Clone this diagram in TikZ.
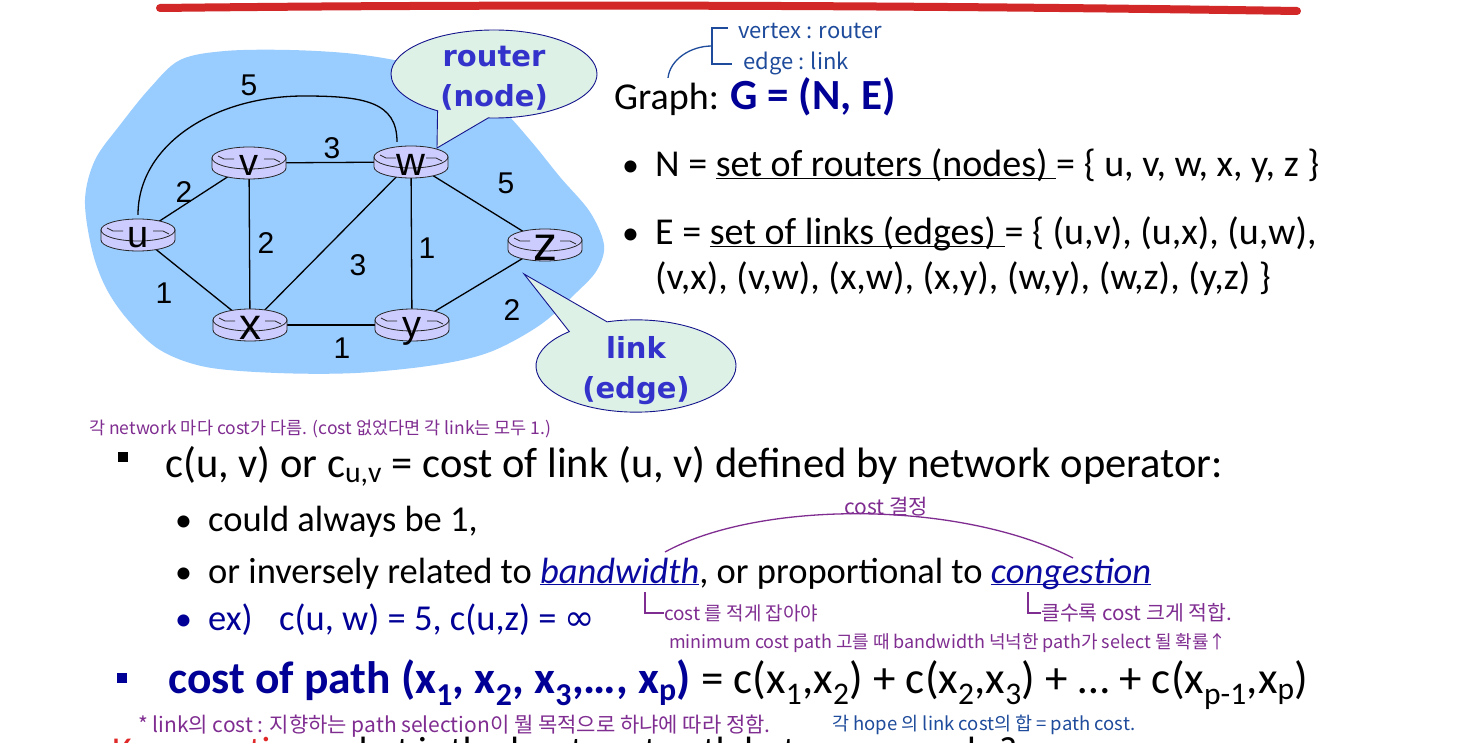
\documentclass[tikz,border=0pt]{standalone}
\usepackage{fontspec}
\setmainfont{Carlito}
\newfontfamily\arialfont{Liberation Sans}
\newfontfamily\bubblefont{DejaVu Sans}
\newfontfamily\hangul{Noto Sans CJK KR}
\usetikzlibrary{positioning,calc,shapes.geometric,shapes.callouts,backgrounds}

\definecolor{cloudblue}{RGB}{153,204,255}
\definecolor{routerlav}{RGB}{204,204,255}
\definecolor{bubblefill}{RGB}{221,241,231}
\definecolor{bubbleedge}{RGB}{20,20,140}
\definecolor{bubbletext}{RGB}{51,51,204}
\definecolor{slideblue}{RGB}{0,0,150}
\definecolor{linkblue}{RGB}{10,10,160}
\definecolor{penpurple}{RGB}{128,45,145}
\definecolor{penblue}{RGB}{30,75,155}
\definecolor{penred}{RGB}{210,40,40}
\definecolor{keyred}{RGB}{225,40,40}

\newcommand{\fsz}[1]{\fontsize{#1}{#1}\selectfont}
\newcommand{\ulword}[1]{\underline{\smash{#1}}}

\tikzset{
  router/.style={rectangle, minimum width=80pt, minimum height=40pt, inner sep=0pt,
    font=\arialfont\fsz{38}, text height=26pt, text depth=0pt,
    path picture={
      \path (path picture bounding box.center) coordinate (rc);
      \filldraw[fill=routerlav, draw=black!85, line width=0.8pt]
        ([shift={(-37pt,5pt)}]rc) -- ([shift={(-37pt,-5pt)}]rc)
        arc[start angle=180, end angle=360, x radius=37pt, y radius=11pt]
        -- ([shift={(37pt,5pt)}]rc) -- cycle;
      \filldraw[fill=routerlav, draw=black!85, line width=0.8pt]
        ([shift={(0pt,5pt)}]rc) ellipse[x radius=37pt, y radius=11pt];
      \draw[black!85, line width=0.8pt]
        ([shift={(-31pt,7pt)}]rc) -- ([shift={(-25pt,4pt)}]rc) -- ([shift={(-15pt,4pt)}]rc)
        ([shift={(15pt,4pt)}]rc) -- ([shift={(25pt,4pt)}]rc) -- ([shift={(31pt,1pt)}]rc);
    }},
  link/.style={draw=black, line width=1.3pt},
  wt/.style={font=\arialfont\fsz{30}, inner sep=0pt},
  bubble/.style={ellipse callout, draw=bubbleedge, fill=bubblefill, line width=0.9pt,
    inner xsep=0pt, align=center, text=bubbletext, font=\bubblefont\bfseries\fontsize{29}{40}\selectfont},
  slidetext/.style={anchor=base west, inner sep=0pt, font=\fsz{38}},
  subtext/.style={anchor=base west, inner sep=0pt, font=\fsz{36.5}},
  maintext/.style={anchor=base west, inner sep=0pt, font=\fsz{42.5}},
  dotbullet/.style={anchor=base west, inner sep=0pt},
  sqbullet/.style={rectangle, fill=black, minimum size=10pt, inner sep=0pt},
  pennote/.style={anchor=base west, inner sep=0pt, text=penpurple, font=\hangul\fsz{17.5}},
  penline/.style={draw=penpurple, line width=1.3pt},
  penblueline/.style={draw=penblue, line width=1.3pt},
}

\begin{document}
\begin{tikzpicture}[x=1pt, y=-1pt]
\useasboundingbox (0,0) rectangle (1468,743);

% routers
\node[router] (u) at (138,235) {u};
\node[router] (v) at (249,163) {v};
\node[router, font=\arialfont\fsz{40}, text height=27pt] (w) at (411,162) {w};
\node[router, font=\arialfont\fsz{44}, text height=29pt] (x) at (250,325) {x};
\node[router] (y) at (412,325) {y};
\node[router, font=\arialfont\fsz{48}, text height=31pt] (z) at (545,245) {z};

% cloud and links
\begin{scope}[on background layer]
  \fill[white] (0,0) rectangle (1468,743);
  \fill[cloudblue] plot[smooth cycle, tension=0.55] coordinates {
    (85,200) (95,160) (120,125) (150,88) (180,60) (225,51) (290,50) (355,54)
    (410,64) (460,85) (500,108) (530,140) (560,177) (590,212) (604,245)
    (597,270) (577,292) (540,325) (490,352) (435,365) (356,373) (277,373)
    (206,367) (160,350) (128,320) (106,288) (92,250)};
  \draw[link] (u.center) -- (v.center);
  \draw[link] (u.center) -- (x.center);
  \draw[link] (v.center) -- (x.center);
  \draw[link] (v.center) -- (w.center);
  \draw[link] (x.center) -- (w.center);
  \draw[link] (x.center) -- (y.center);
  \draw[link] (w.center) -- (y.center);
  \draw[link] (w.center) -- (z.center);
  \draw[link] (y.center) -- (z.center);
  \draw[link] (u.north) .. controls +(0,-70) and +(-90,0) .. (304,96)
    .. controls +(60,0) and +(0,-40) .. ([xshift=-14pt]w.north);
\end{scope}

% link costs
\node[wt] (c-uw) at (249,85) {5};
\node[wt] (c-vw) at (332,148) {3};
\node[wt] (c-uv) at (184,192) {2};
\node[wt] (c-vx) at (266,243) {2};
\node[wt] (c-xw) at (358,265) {3};
\node[wt] (c-wy) at (427,248) {1};
\node[wt] (c-wz) at (506,183) {5};
\node[wt] (c-ux) at (164,293) {1};
\node[wt] (c-xy) at (342,348) {1};
\node[wt] (c-yz) at (512,310) {2};

% callouts
\node[bubble, minimum width=206pt, minimum height=88pt, inner ysep=-7pt, callout pointer arc=30,
  callout absolute pointer={($(w.center)+(26,-14)$)}] (routertag) at (494,74) {\rule{0pt}{29pt}router\\(node)};
\node[bubble, minimum width=200pt, minimum height=92pt, inner ysep=-6.5pt, callout pointer arc=25,
  callout absolute pointer={($(z.center)+(-21,29)$)}] (linktag) at (636,366) {\rule{0pt}{32pt}link\\(edge)};

% top stroke
\draw[penred, line width=8pt, line cap=round] (160,8) .. controls (500,4) and (900,5) .. (1297,11);

% graph definition
\node[slidetext] (graphhead) at (614,110) {Graph: {\color{slideblue}\bfseries\fsz{43}G = (N, E)}};
\node[dotbullet, font=\fsz{34}] (nbul) at (622,177) {•};
\node[slidetext] (nset) at (655,177) {N = \ulword{set of routers (nodes)\ }= \{ u, v, w, x, y, z \}};
\node[dotbullet, font=\fsz{34}] (ebul) at (622,245) {•};
\node[slidetext] (eset) at (655,245) {E = \ulword{set of links (edges)\ }= \{ (u,v), (u,x), (u,w),};
\node[slidetext] (eset2) at (655,290) {(v,x), (v,w), (x,w), (x,y), (w,y), (w,z), (y,z) \}};

% handwritten: vertex / edge
\node[pennote, text=penblue, font=\hangul\fsz{22}] (vtx) at (738,39) {vertex : router};
\node[pennote, text=penblue, font=\hangul\fsz{22}] (edg) at (743,70) {edge : link};
\draw[penblueline] ([shift={(-10pt,11pt)}]vtx.base west) -- ++(-16,0) |- ([shift={(-11pt,6pt)}]edg.base west);
\draw[penblueline] ([xshift=54pt]graphhead.north west) .. controls +(2,-18) and +(-22,0) .. (712,46);

% cost definition
\node[pennote] (note1) at (89,434) {각 network 마다 cost가 다름. (cost 없었다면 각 link는 모두 1.)};
\node[sqbullet] (sq1) at (123,457) {};
\node[maintext] (costdef) at (165,477) {c(u, v) or c\textsubscript{u,v} = cost of link (u, v) defined by network operator:};
\node[dotbullet, font=\fsz{34}] (b1) at (175,531) {•};
\node[subtext] (always) at (208,531) {could always be 1,};
\node[dotbullet, font=\fsz{34}] (b2) at (175,583) {•};
\node[subtext] (inverse) at (208,583) {or inversely related to {\color{linkblue}\itshape\ulword{bandwidth}}, or proportional to {\color{linkblue}\itshape\ulword{congestion}}};
\node[dotbullet, font=\fsz{34}, text=slideblue] (b3) at (175,630) {•};
\node[subtext, text=slideblue] (example) at (208,630) {ex)\hspace{0.5em} c(u, w) = 5, c(u,z) = {\bubblefont ∞}};

% pen notes on bandwidth / congestion
\coordinate (arcstart) at (665,552);
\coordinate (arcend) at (1073,558);
\draw[penline] (arcstart) .. controls (760,500) and (960,500) .. (arcend);
\node[pennote, anchor=center, font=\hangul\fsz{21}] (costfix) at (886,507) {cost 결정};
\coordinate (bwtick) at (645,592);
\coordinate (cgtick) at (1028,592);
\node[pennote, anchor=west, font=\hangul\fsz{19}] (bwnote) at (664,613) {cost 를 적게 잡아야};
\node[pennote, anchor=west, font=\hangul\fsz{20.5}] (cgnote) at (1041,613) {클수록 cost 크게 적합.};
\draw[penline] (bwtick) |- (bwnote.west);
\draw[penline] (cgtick) |- (cgnote.west);
\node[pennote, anchor=west, font=\hangul\fsz{18}] (minnote) at (669,643) {minimum cost path 고를 때 bandwidth 넉넉한 path가 select 될 확률↑};

% path cost
\node[sqbullet, fill=slideblue] (sq2) at (122,678) {};
\node[maintext, font=\fsz{45.5}] (pathcost) at (168,693) {{\color{slideblue}\bfseries cost of path (x\textsubscript{1}, x\textsubscript{2}, x\textsubscript{3},…, x\textsubscript{p})} {\fsz{45}= c(x\textsubscript{1},x\textsubscript{2}) + c(x\textsubscript{2},x\textsubscript{3}) + … + c(x\textsubscript{p-1},x\textsubscript{p})}};
\node[pennote, anchor=west, font=\hangul\fsz{21}] (selnote) at (138,726) {* link의 cost : 지향하는 path selection이 뭘 목적으로 하냐에 따라 정함.};
\node[pennote, anchor=west, text=penblue, font=\hangul\fsz{18.5}] (hopnote) at (832,725) {각 hope 의 link cost의 합 = path cost.};

% cut-off question
\node[maintext, font=\fsz{38}] (keyq) at (112,763) {{\color{keyred}Key question:} what is the least-cost path between u and z?};
\end{tikzpicture}
\end{document}
